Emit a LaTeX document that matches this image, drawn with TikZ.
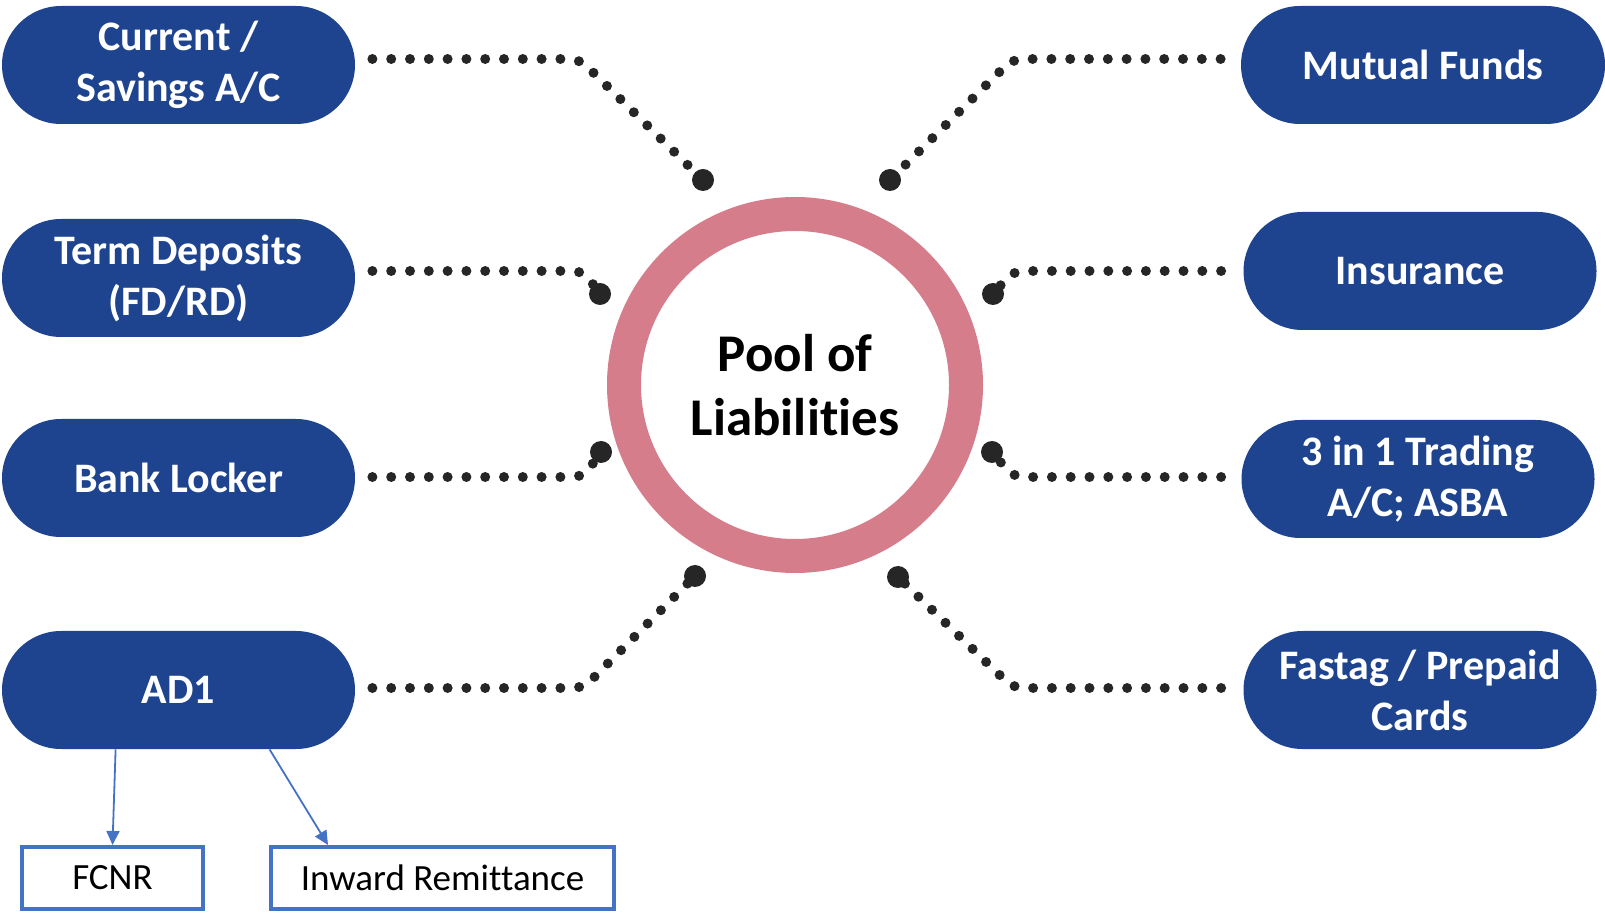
\documentclass[tikz,border=0pt]{standalone}
\usepackage{fontspec}
\setmainfont{Carlito}[Ligatures=NoCommon]
\usetikzlibrary{arrows.meta, positioning, calc}
\definecolor{pillcolor}{RGB}{30, 68, 143}
\definecolor{ringcolor}{RGB}{214, 125, 140}
\definecolor{dotcolor}{RGB}{38, 38, 38}
\definecolor{boxcolor}{RGB}{68, 114, 196}
\tikzset{
	pill/.style={fill=pillcolor, draw=none, shape=rectangle, minimum width=176.5pt, minimum height=59pt, rounded corners=29.5pt, text=white, align=center, font=\fontsize{21}{25.5}\selectfont\bfseries},
	pool/.style={draw=ringcolor, line width=17pt, shape=circle, minimum size=171pt, fill=white, align=center, font=\fontsize{26.5}{32}\selectfont\bfseries},
	joint/.style={fill=dotcolor, shape=circle, minimum size=11pt, inner sep=0pt},
	dotlink/.style={draw=dotcolor, line width=5pt, line cap=round, dash pattern=on 0pt off 9.4pt, rounded corners=5pt},
	subbox/.style={draw=boxcolor, line width=2pt, shape=rectangle, minimum height=31pt, font=\fontsize{18.5}{22}\selectfont},
	branch/.style={draw=boxcolor, line width=0.9pt, -{Triangle[length=7pt, width=6.5pt]}}
}
\begin{document}
\begin{tikzpicture}[x=0.5pt, y=-0.5pt]
		\useasboundingbox (0,0) rectangle (1605,913);

		% centre
		\node (pool) [pool] at (795,385) {Pool of\\Liabilities};

		% left
		\node (cur) [pill] at (178.5,65) {Current /\\Savings A/C};
		\node (term) [pill] at (178.5,278) {Term Deposits\\(FD/RD)};
		\node (locker) [pill] at (178.5,478) {Bank Locker};
		\node (ad) [pill] at (178.5,690) {AD1};

		% right
		\node (mf) [pill, minimum width=182pt] at (1423,65) {Mutual Funds};
		\node (ins) [pill] at (1420,271) {Insurance};
		\node (trade) [pill] at (1418,479) {3 in 1 Trading\\A/C; ASBA};
		\node (tag) [pill] at (1420,690) {Fastag / Prepaid\\Cards};

		% joints
		\node (j1) [joint] at (703,180) {};
		\node (j2) [joint] at (600,294) {};
		\node (j3) [joint] at (601,452) {};
		\node (j4) [joint] at (695,576) {};
		\node (j5) [joint] at (890,180) {};
		\node (j6) [joint] at (993,294) {};
		\node (j7) [joint] at (992,452) {};
		\node (j8) [joint] at (898,577) {};

		\draw[dotlink] ($(cur.east)+(17,-6)$) -- ++(207,0) -- (j1.center);
		\draw[dotlink] ($(term.east)+(17,-7)$) -- ++(211,0) -- (j2.center);
		\draw[dotlink] ($(locker.east)+(17,-1)$) -- ++(211,0) -- (j3.center);
		\draw[dotlink] ($(ad.east)+(17,-2)$) -- ++(211,0) -- (j4.center);
		\draw[dotlink] ($(mf.west)+(-20,-6)$) -- ++(-208,0) -- (j5.center);
		\draw[dotlink] ($(ins.west)+(-22,0)$) -- ++(-208,0) -- (j6.center);
		\draw[dotlink] ($(trade.west)+(-20,-2)$) -- ++(-208,0) -- (j7.center);
		\draw[dotlink] ($(tag.west)+(-22,-2)$) -- ++(-208,0) -- (j8.center);

		% AD1 branches
		\node (fcnr) [subbox, minimum width=90.5pt] at (112.5,878) {FCNR};
		\node (inward) [subbox, minimum width=171.5pt] at (442.5,878) {Inward Remittance};
		\draw[branch] ($(ad.south west)+(114,0)$) -- (fcnr.north);
		\draw[branch] ($(ad.south west)+(268,0)$) -- ($(inward.north west)+(59,0)$);
\end{tikzpicture}
\end{document}
